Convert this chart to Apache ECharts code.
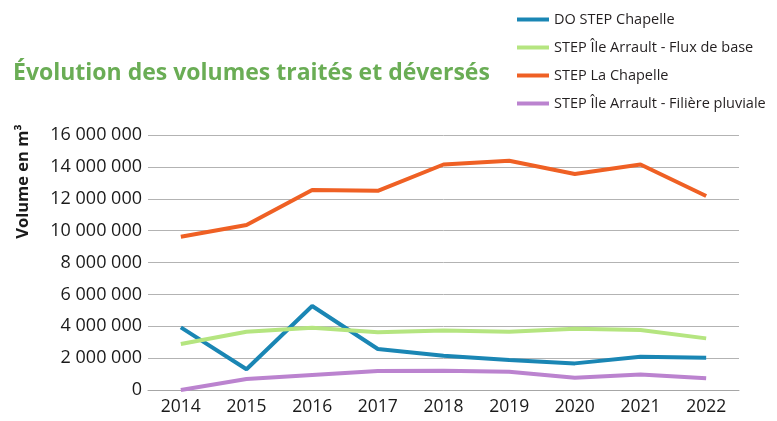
<!DOCTYPE html>
<html>
<head>
<meta charset="utf-8">
<title>Évolution des volumes</title>
<script src="https://cdn.jsdelivr.net/npm/echarts@6/dist/echarts.min.js"></script>
</head>
<body style="margin:0px;">
<div id="main" style="width:777px;height:421px;"></div>
<script type="text/javascript">
var years = ['2014', '2015', '2016', '2017', '2018', '2019', '2020', '2021', '2022'];
var doStepChapelle = [3930000, 1300000, 5270000, 2570000, 2150000, 1880000, 1670000, 2090000, 2030000];
var ileArraultBase = [2890000, 3660000, 3910000, 3620000, 3740000, 3660000, 3850000, 3760000, 3240000];
var stepLaChapelle = [9620000, 10350000, 12550000, 12500000, 14150000, 14380000, 13550000, 14150000, 12170000];
var ileArraultPluviale = [0, 690000, 940000, 1190000, 1210000, 1150000, 770000, 980000, 730000];

var font = 'Open Sans';
var myChart = echarts.init(document.getElementById('main'));

function fmt(v) {
    return String(v).replace(/\B(?=(\d{3})+(?!\d))/g, ' ');
}

function line(name, data, color) {
    return {
        name: name,
        type: 'line',
        data: data,
        symbol: 'none',
        lineStyle: { width: 4, color: color },
        itemStyle: { color: color }
    };
}

myChart.setOption({
    animation: false,
    title: {
        text: 'Évolution des volumes traités et déversés',
        left: 8,
        top: 57,
        textStyle: { fontFamily: font, fontWeight: 'bold', fontSize: 23, color: '#6aad55' }
    },
    legend: {
        orient: 'vertical',
        left: 512,
        top: 7,
        itemWidth: 32,
        itemHeight: 4,
        itemGap: 13,
        icon: 'rect',
        textStyle: { fontFamily: font, fontSize: 14.5, color: '#231f20' },
        data: ['DO STEP Chapelle', 'STEP Île Arrault - Flux de base', 'STEP La Chapelle', 'STEP Île Arrault - Filière pluviale']
    },
    grid: { left: 148, right: 38, top: 135, bottom: 31 },
    xAxis: {
        type: 'category',
        data: years,
        boundaryGap: true,
        axisLine: { lineStyle: { color: '#a6a6a6', width: 1 } },
        axisTick: { length: 5, lineStyle: { color: '#a6a6a6' } },
        axisLabel: { fontFamily: font, fontSize: 17.5, color: '#1a1a1a', margin: 8 }
    },
    yAxis: {
        type: 'value',
        min: 0,
        max: 16000000,
        interval: 2000000,
        name: 'Volume en m³',
        nameLocation: 'middle',
        nameGap: 116,
        nameTextStyle: { fontFamily: font, fontWeight: 'bold', fontSize: 16.5, color: '#1a1a1a', padding: [0, 0, 0, 162] },
        axisLine: { show: false },
        axisTick: { show: false },
        splitLine: { lineStyle: { color: '#b3b3b3', width: 1 } },
        axisLabel: { fontFamily: font, fontSize: 18, color: '#1a1a1a', margin: 6, formatter: fmt }
    },
    series: [
        line('DO STEP Chapelle', doStepChapelle, '#1a86b4'),
        line('STEP Île Arrault - Flux de base', ileArraultBase, '#b5e580'),
        line('STEP La Chapelle', stepLaChapelle, '#ef6024'),
        line('STEP Île Arrault - Filière pluviale', ileArraultPluviale, '#bb83cf')
    ]
});
</script>
</body>
</html>
